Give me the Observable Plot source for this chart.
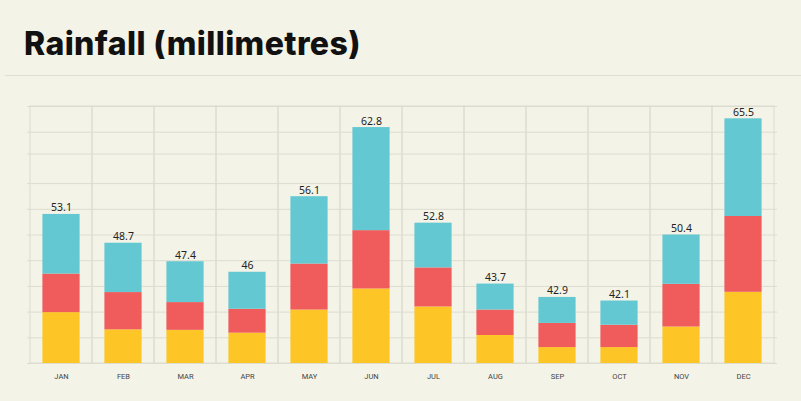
<!DOCTYPE html>
<html>
<head>
<meta charset="utf-8">
<script src="https://cdn.jsdelivr.net/npm/d3@7"></script>
<script src="https://cdn.jsdelivr.net/npm/@observablehq/plot@0.6"></script>
<style>
  html, body { margin: 0; padding: 0; background: #f3f3e7; }
  #wrap { width: 801px; height: 401px; position: relative; overflow: hidden; background: #f3f3e7; }
  #head { position: relative; height: 80px; }
  #title { position: absolute; left: 24px; top: 28px; margin: 0; font-family: Inter, sans-serif; font-weight: 800; font-size: 32px; line-height: 32px; color: #111; letter-spacing: 0.4px; }
  #rule { position: absolute; left: 5px; right: 0; top: 75px; height: 1px; background: #dedfd2; }
  #chart svg { display: block; }
</style>
</head>
<body>
<div id="wrap">
  <div id="head">
    <h1 id="title">Rainfall (millimetres)</h1>
    <div id="rule"></div>
  </div>
  <div id="chart"></div>
</div>
<script>
// Categories
const months = ["JAN","FEB","MAR","APR","MAY","JUN","JUL","AUG","SEP","OCT","NOV","DEC"];
// Segment heights as drawn (chart's unlabelled vertical units, 0–100 plot height)
const lowerPart  = [19.8, 13.1, 12.9, 11.8, 20.8, 29.0, 22.0, 10.9, 6.2, 6.2, 14.2, 27.7];
const middlePart = [15.0, 14.5, 10.8,  9.3, 17.9, 22.7, 15.2,  9.9, 9.4, 8.7, 16.6, 29.5];
const upperPart  = [23.2, 19.2, 15.9, 14.4, 26.2, 40.1, 17.4, 10.1, 10.1, 9.4, 19.2, 38.0];
// Total labels (millimetres)
const totals = ["53.1","48.7","47.4","46","56.1","62.8","52.8","43.7","42.9","42.1","50.4","65.5"];
// Horizontal grid line values
const gridValues = [0, 10, 20, 30, 40, 50, 60, 70, 81.5, 90, 100];

const seriesNames = ["s1", "s2", "s3"];
const seriesColors = ["#fdc525", "#f05c5c", "#63c8d2"];

const rows = [];
months.forEach((m, i) => {
  rows.push({month: m, series: "s1", value: lowerPart[i]});
  rows.push({month: m, series: "s2", value: middlePart[i]});
  rows.push({month: m, series: "s3", value: upperPart[i]});
});
const tops = months.map((m, i) => ({month: m, top: lowerPart[i] + middlePart[i] + upperPart[i], label: totals[i]}));

const gridColor = "#dcdccf";

const chart = Plot.plot({
  width: 801,
  height: 321,
  marginTop: 26,
  marginBottom: 38,
  marginLeft: 27,
  marginRight: 24,
  style: {background: "transparent", fontFamily: "Roboto, sans-serif", overflow: "visible"},
  x: {domain: months, padding: 0},
  y: {domain: [0, 100], axis: null},
  color: {domain: seriesNames, range: seriesColors},
  marks: [
    Plot.ruleY(gridValues, {stroke: gridColor, strokeWidth: 1}),
    Plot.barY(months, {x: d => d, y1: 0, y2: 100, fill: "none", stroke: gridColor, strokeWidth: 1}),
    Plot.barY(rows, {x: "month", y: "value", fill: "series", order: seriesNames, insetLeft: 12.4, insetRight: 12.4}),
    Plot.text(tops, {x: "month", y: "top", text: "label", dy: -3, lineAnchor: "bottom", fontSize: 10.5, fill: "#222", fontFamily: "'Noto Sans', sans-serif"}),
    Plot.axisX({tickSize: 0, tickPadding: 10, fontSize: 7.5, color: "#444", label: null})
  ]
});
document.getElementById("chart").appendChild(chart);
</script>
</body>
</html>
